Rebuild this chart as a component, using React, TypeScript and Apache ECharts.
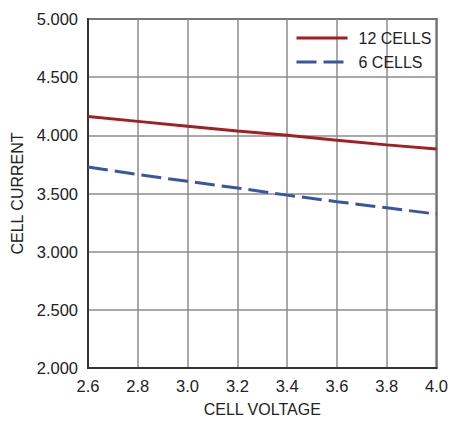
import React, { useEffect, useRef } from "react";
import * as echarts from "echarts";

const xValues = [2.6, 2.8, 3.0, 3.2, 3.4, 3.6, 3.8, 4.0];
const cells12 = [4.162, 4.12, 4.078, 4.038, 4.0, 3.958, 3.918, 3.882];
const cells6 = [3.727, 3.663, 3.605, 3.547, 3.486, 3.43, 3.377, 3.323];
const seriesNames = ["12 CELLS", "6 CELLS"];

const FONT = "'Liberation Sans Narrow', 'Arial Narrow', 'Liberation Sans', Arial, sans-serif";

export default function App() {
  const ref = useRef<HTMLDivElement>(null);
  useEffect(() => {
    document.body.style.margin = "0";
    const chart = echarts.init(ref.current!, null, { renderer: "svg" });
    chart.setOption({
      animation: false,
      backgroundColor: "#ffffff",
      textStyle: { fontFamily: FONT },
      grid: {
        left: 88,
        right: 12,
        top: 19,
        bottom: 51,
        show: true,
        borderColor: "#333333",
        borderWidth: 2,
        containLabel: false,
      },
      legend: {
        orient: "vertical",
        left: 295,
        top: 30,
        padding: 0,
        itemWidth: 51,
        itemHeight: 14,
        itemGap: 8,
        data: seriesNames,
        itemStyle: { opacity: 0 },
        lineStyle: { width: 3 },
        textStyle: { fontSize: 16, color: "#222222", fontFamily: FONT, padding: [0, 0, 0, 6] },
      },
      xAxis: {
        type: "value",
        min: 2.6,
        max: 4.0,
        interval: 0.2,
        name: "CELL VOLTAGE",
        nameLocation: "middle",
        nameGap: 33,
        nameTextStyle: { fontSize: 16, color: "#222222", fontFamily: FONT },
        axisLine: { show: true, lineStyle: { color: "#333333", width: 2 } },
        axisTick: { show: false },
        axisLabel: {
          fontSize: 16.5,
          color: "#222222",
          margin: 9,
          fontFamily: FONT,
          formatter: (v: number) => v.toFixed(1),
        },
        splitLine: { show: true, lineStyle: { color: "#8c8c8c", width: 1.5 } },
      },
      yAxis: {
        type: "value",
        min: 2.0,
        max: 5.0,
        interval: 0.5,
        name: "CELL CURRENT",
        nameLocation: "middle",
        nameGap: 58,
        nameTextStyle: { fontSize: 16, color: "#222222", fontFamily: FONT },
        axisLine: { show: true, lineStyle: { color: "#333333", width: 2 } },
        axisTick: { show: false },
        axisLabel: {
          fontSize: 16.5,
          color: "#222222",
          margin: 10,
          fontFamily: FONT,
          formatter: (v: number) => v.toFixed(3),
        },
        splitLine: { show: true, lineStyle: { color: "#8c8c8c", width: 1.5 } },
      },
      series: [
        {
          name: seriesNames[0],
          type: "line",
          symbol: "none",
          data: xValues.map((x, i) => [x, cells12[i]]),
          lineStyle: { color: "#a41e22", width: 3 },
          itemStyle: { color: "#a41e22" },
        },
        {
          name: seriesNames[1],
          type: "line",
          symbol: "none",
          data: xValues.map((x, i) => [x, cells6[i]]),
          lineStyle: { color: "#3a55a4", width: 3, type: [20, 7] },
          itemStyle: { color: "#3a55a4" },
        },
      ],
    });
    return () => chart.dispose();
  }, []);
  return <div ref={ref} style={{ width: 451, height: 422 }} />;
}
